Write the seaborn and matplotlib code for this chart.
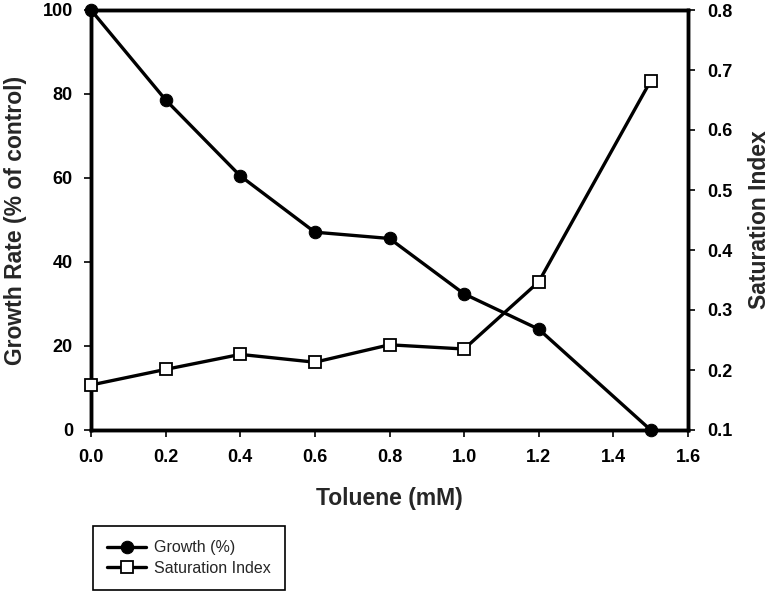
import matplotlib
matplotlib.use("Agg")
import matplotlib.pyplot as plt
import seaborn as sns
import numpy as np
from matplotlib.ticker import FormatStrFormatter, MultipleLocator

toluene = [0.0, 0.2, 0.4, 0.6, 0.8, 1.0, 1.2, 1.5]
growth = [100.0, 78.6, 60.5, 47.1, 45.6, 32.4, 24.0, 0.0]
saturation = [0.175, 0.201, 0.226, 0.213, 0.242, 0.235, 0.347, 0.682]

sns.set_style("ticks")
plt.rcParams['font.family'] = ['Liberation Sans', 'DejaVu Sans']
plt.rcParams['font.weight'] = 'bold'

fig = plt.figure(figsize=(7.74, 5.94), dpi=100)
ax = fig.add_axes([91/774, 1-430/594, (688-91)/774, 420/594])
ax2 = ax.twinx()

lw = 2.4
sns.lineplot(x=toluene, y=growth, ax=ax, color='black', linewidth=lw,
             marker='o', markersize=9, markerfacecolor='black',
             markeredgecolor='black', clip_on=False, label='Growth (%)',
             legend=False, zorder=5)
sns.lineplot(x=toluene, y=saturation, ax=ax2, color='black', linewidth=lw,
             marker='s', markersize=8, markerfacecolor='white',
             markeredgecolor='black', markeredgewidth=1.3, clip_on=False,
             label='Saturation Index', legend=False, zorder=5)

ax.set_xlim(0, 1.6)
ax.set_ylim(0, 100)
ax2.set_ylim(0.1, 0.8)
ax.xaxis.set_major_locator(MultipleLocator(0.2))
ax.yaxis.set_major_locator(MultipleLocator(20))
ax2.yaxis.set_major_locator(MultipleLocator(0.1))
ax.xaxis.set_major_formatter(FormatStrFormatter('%.1f'))
ax.yaxis.set_major_formatter(FormatStrFormatter('%d'))
ax2.yaxis.set_major_formatter(FormatStrFormatter('%.1f'))

for a in (ax, ax2):
    for s in a.spines.values():
        s.set_linewidth(2.5)
        s.set_color('black')
    a.tick_params(axis='both', which='major', direction='out', length=5,
                  width=1.2, labelsize=13, colors='black')
ax.tick_params(axis='x', pad=9)
ax.tick_params(axis='y', pad=8)
ax2.tick_params(axis='y', pad=9)

ax.set_xlabel('Toluene (mM)', fontsize=16.5, fontweight='bold', labelpad=15)
ax.set_ylabel('Growth Rate (% of control)', fontsize=16.5, fontweight='bold', labelpad=11)
ax2.set_ylabel('Saturation Index', fontsize=16.5, fontweight='bold', labelpad=11)

h1, l1 = ax.get_legend_handles_labels()
h2, l2 = ax2.get_legend_handles_labels()
leg = fig.legend(h1 + h2, l1 + l2, loc='upper left',
                 bbox_to_anchor=(93/774, 1-588/594, 192/774, 62/594),
                 mode='expand', borderaxespad=0, fancybox=False,
                 edgecolor='black', framealpha=1, handlelength=2.4,
                 prop={'size': 11.5, 'weight': 'normal'}, borderpad=0.9,
                 labelspacing=0.35, handletextpad=0.55)
leg.get_frame().set_linewidth(1.2)

fig.savefig('out.png', dpi=100)
